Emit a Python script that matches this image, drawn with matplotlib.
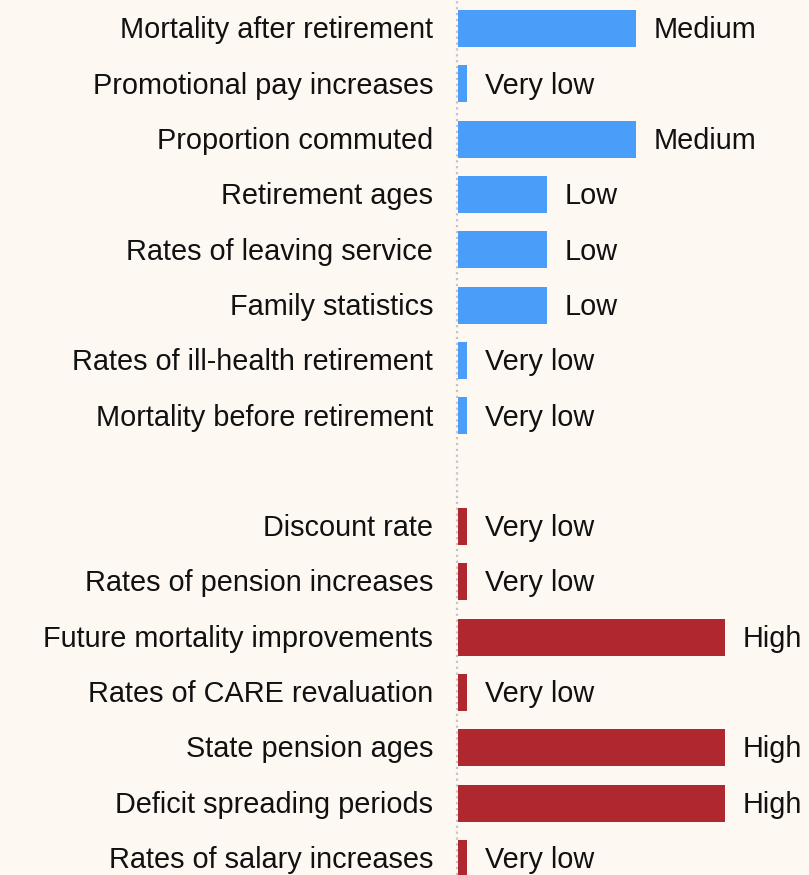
import matplotlib.pyplot as plt
import matplotlib.transforms as mtransforms
import numpy as np

plt.rcParams['font.family'] = ['Liberation Sans', 'DejaVu Sans']

# factors and their assessed impact, top to bottom
demographic = ['Mortality after retirement', 'Promotional pay increases', 'Proportion commuted',
               'Retirement ages', 'Rates of leaving service', 'Family statistics',
               'Rates of ill-health retirement', 'Mortality before retirement']
demographic_level = ['Medium', 'Very low', 'Medium', 'Low', 'Low', 'Low', 'Very low', 'Very low']

financial = ['Discount rate', 'Rates of pension increases', 'Future mortality improvements',
             'Rates of CARE revaluation', 'State pension ages', 'Deficit spreading periods',
             'Rates of salary increases']
financial_level = ['Very low', 'Very low', 'High', 'Very low', 'High', 'High', 'Very low']

level_value = {'Very low': 0.1, 'Low': 1.0, 'Medium': 2.0, 'High': 3.0}

bg = '#fdf8f2'
blue = '#4a9efa'
red = '#b0282f'

fig = plt.figure(figsize=(8.09, 8.75), dpi=100, facecolor=bg)
ax = fig.add_axes([458 / 809, 0, 1 - 458 / 809, 1])
ax.set_facecolor(bg)

# text baseline sits a little below the bar centre so caps line up with it
txt = mtransforms.offset_copy(ax.transData, fig=fig, y=-7.0, units='points')

y_demo = np.arange(len(demographic))
y_fin = np.arange(len(financial)) + len(demographic) + 1

groups = [(demographic, demographic_level, y_demo, blue),
          (financial, financial_level, y_fin, red)]
for names, levels, ys, color in groups:
    vals = [level_value[l] for l in levels]
    ax.barh(ys, vals, height=0.67, color=color, zorder=2)
    for y, v, l, n in zip(ys, vals, levels, names):
        ax.text(v + 0.2, y, l, va='baseline', ha='left', fontsize=20.8,
                color='#111111', transform=txt)
        ax.text(-0.28, y, n, va='baseline', ha='right', fontsize=20.8,
                color='#111111', transform=txt, clip_on=False)

ax.set_xlim(0, 3.94)
ax.set_ylim(15.30, -0.515)
ax.axvline(-0.01, color='#c4c4c4', linestyle=':', linewidth=1.6, zorder=1, clip_on=False)
for s in ax.spines.values():
    s.set_visible(False)
ax.set_xticks([])
ax.set_yticks([])

fig.savefig('out.png', dpi=100, facecolor=bg)
